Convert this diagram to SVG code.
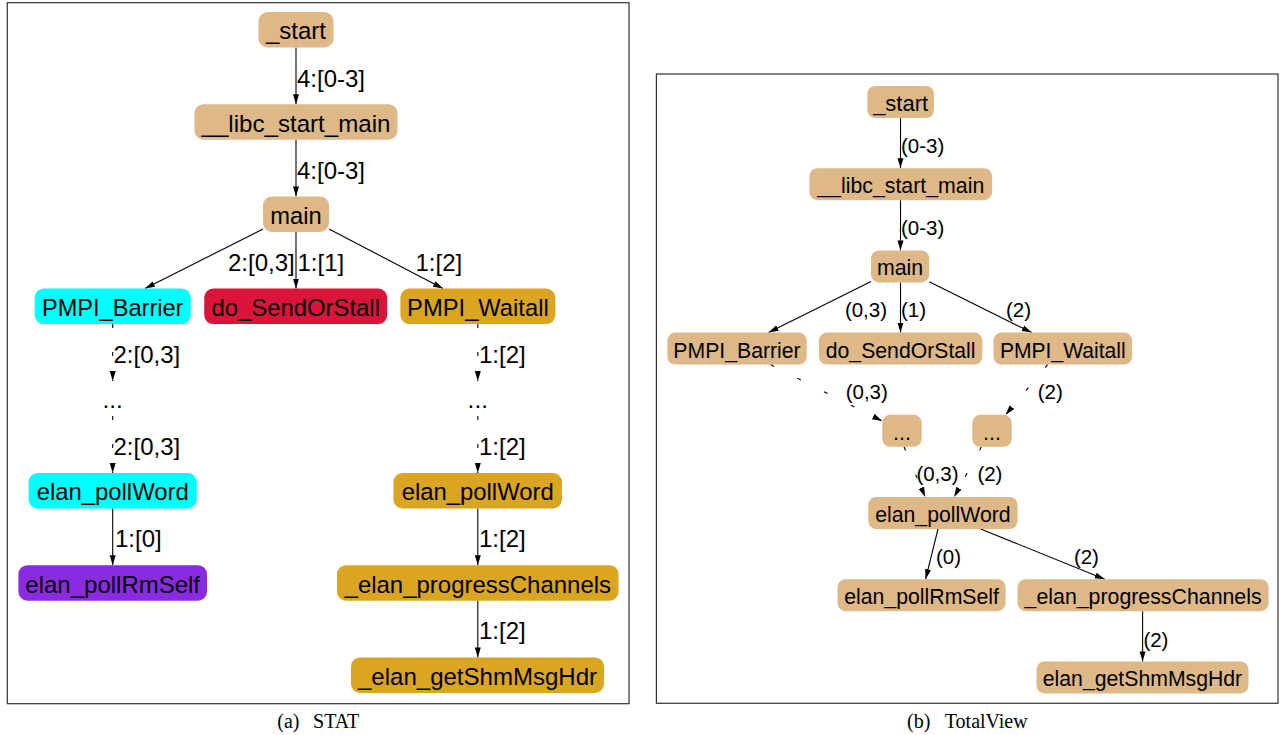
<svg xmlns="http://www.w3.org/2000/svg" width="1280" height="735" viewBox="0 0 1280 735">
<style>
.bg{fill:#fff}
.frame{fill:none;stroke:#333;stroke-width:1.2}
.tan{fill:#deb887}
.cy{fill:#00ffff}
.cr{fill:#dc143c}
.gd{fill:#daa520}
.pu{fill:#8a2be2}
.nl{font-family:"Liberation Sans",Arial,sans-serif;font-size:24.5px;text-anchor:middle;fill:#000}
.nr{font-family:"Liberation Sans",Arial,sans-serif;font-size:21.5px;text-anchor:middle;fill:#000}
.ll{font-family:"Liberation Sans",Arial,sans-serif;font-size:24px;fill:#000}
.lr{font-family:"Liberation Sans",Arial,sans-serif;font-size:20.5px;fill:#000}
.e{stroke:#000;stroke-width:1.1;fill:none;marker-end:url(#ah)}
.dl{stroke-dasharray:4 24}
.dr{stroke-dasharray:4 26}
.cap{font-family:"Liberation Serif","Times New Roman",serif;font-size:20px;fill:#000}
</style>
<defs>
<marker id="ah" viewBox="0 0 10 7" refX="10" refY="3.5" markerWidth="10" markerHeight="7" markerUnits="userSpaceOnUse" orient="auto">
<path d="M0,0.5 L10,3.5 L0,6.5 Z" fill="#000" stroke="none"/>
</marker>
</defs>
<rect class="bg" x="0" y="0" width="1280" height="735"/>

<!-- Panel (a) STAT -->
<rect class="frame" x="7.3" y="2.7" width="621.7" height="701"/>
<g id="a_edges">
<path class="e" d="M296,47.5 L296,104.2"/>
<path class="e" d="M296,139.7 L296,196.4"/>
<path class="e" d="M263,229 L145,288.6"/>
<path class="e" d="M296,231.9 L296,288.6"/>
<path class="e" d="M329,229 L443,288.6"/>
<path class="e dl" d="M112.7,324.1 L112.7,381"/>
<path class="e dl" d="M112.7,416 L112.7,473"/>
<path class="e" d="M112.7,508.5 L112.7,565.2"/>
<path class="e dl" d="M477.8,324.1 L477.8,381"/>
<path class="e dl" d="M477.8,416 L477.8,473"/>
<path class="e" d="M477.8,508.5 L477.8,565.2"/>
<path class="e" d="M477.8,600.7 L477.8,657.4"/>
<text class="ll" x="297" y="86.5">4:[0-3]</text>
<text class="ll" x="297" y="178.5">4:[0-3]</text>
<text class="ll" x="294.7" y="270.5" text-anchor="end">2:[0,3]</text>
<text class="ll" x="297.5" y="270.5">1:[1]</text>
<text class="ll" x="415.5" y="270.5">1:[2]</text>
<text class="ll" x="113.5" y="363">2:[0,3]</text>
<text class="ll" x="113.5" y="455">2:[0,3]</text>
<text class="ll" x="115" y="547.3">1:[0]</text>
<text class="ll" x="479" y="363">1:[2]</text>
<text class="ll" x="479" y="455">1:[2]</text>
<text class="ll" x="479" y="547.3">1:[2]</text>
<text class="ll" x="479" y="639.3">1:[2]</text>
</g>
<g id="a_start"><rect class="tan" x="258.5" y="12" width="75" height="35.5" rx="9"/><text class="nl" x="296" y="39.3" textLength="60" lengthAdjust="spacingAndGlyphs">_start</text></g>
<g id="a_libc"><rect class="tan" x="194.5" y="104.2" width="203" height="35.5" rx="9"/><text class="nl" x="296" y="131.5" textLength="189" lengthAdjust="spacingAndGlyphs">__libc_start_main</text></g>
<g id="a_main"><rect class="tan" x="263" y="196.4" width="66" height="35.5" rx="9"/><text class="nl" x="296" y="223.7" textLength="51.4" lengthAdjust="spacingAndGlyphs">main</text></g>
<g id="a_barrier"><rect class="cy" x="34.7" y="288.6" width="156" height="35.5" rx="9"/><text class="nl" x="112.7" y="315.9" textLength="141.6" lengthAdjust="spacingAndGlyphs">PMPI_Barrier</text></g>
<g id="a_send"><rect class="cr" x="204.2" y="288.6" width="183" height="35.5" rx="9"/><text class="nl" x="295.7" y="315.9" textLength="168.6" lengthAdjust="spacingAndGlyphs">do_SendOrStall</text></g>
<g id="a_waitall"><rect class="gd" x="400.4" y="288.6" width="155" height="35.5" rx="9"/><text class="nl" x="477.9" y="315.9" textLength="141.6" lengthAdjust="spacingAndGlyphs">PMPI_Waitall</text></g>
<g id="a_dots1"><text class="nl" x="112.7" y="408">...</text></g>
<g id="a_dots2"><text class="nl" x="477.8" y="408">...</text></g>
<g id="a_pollword1"><rect class="cy" x="28.6" y="473" width="168.2" height="35.5" rx="9"/><text class="nl" x="112.7" y="500.3" textLength="152" lengthAdjust="spacingAndGlyphs">elan_pollWord</text></g>
<g id="a_rmself"><rect class="pu" x="18.4" y="565.2" width="188.6" height="35.5" rx="9"/><text class="nl" x="112.7" y="592.5" textLength="174.7" lengthAdjust="spacingAndGlyphs">elan_pollRmSelf</text></g>
<g id="a_pollword2"><rect class="gd" x="393.4" y="473" width="168.6" height="35.5" rx="9"/><text class="nl" x="477.7" y="500.3" textLength="152" lengthAdjust="spacingAndGlyphs">elan_pollWord</text></g>
<g id="a_progress"><rect class="gd" x="337" y="565.2" width="281.6" height="35.5" rx="9"/><text class="nl" x="477.8" y="592.5" textLength="266.5" lengthAdjust="spacingAndGlyphs">_elan_progressChannels</text></g>
<g id="a_getshm"><rect class="gd" x="351" y="657.4" width="253" height="35.5" rx="9"/><text class="nl" x="477.5" y="684.7" textLength="239" lengthAdjust="spacingAndGlyphs">_elan_getShmMsgHdr</text></g>
<text class="cap" x="277.3" y="728.3">(a)</text>
<text class="cap" x="359.3" y="728.3" text-anchor="end">STAT</text>

<!-- Panel (b) TotalView -->
<rect class="frame" x="656.4" y="74" width="621.6" height="629.3"/>
<g id="b_edges">
<path class="e" d="M900.5,118 L900.5,168.2"/>
<path class="e" d="M900.5,200.2 L900.5,250.4"/>
<path class="e" d="M871,281.5 L768.5,332.6"/>
<path class="e" d="M900.5,282.4 L900.5,332.6"/>
<path class="e" d="M929.2,281.7 L1031.7,332.6"/>
<path class="e dr" d="M770.5,364.6 L882.2,421"/>
<path class="e dr" d="M1047.7,364.6 L1005.6,414.8"/>
<path class="e dr" d="M904,446.8 L925.2,497"/>
<path class="e dr" d="M981.5,446.8 L954.1,497"/>
<path class="e" d="M938,529 L925.6,579.2"/>
<path class="e" d="M980.7,529 L1104.8,579.2"/>
<path class="e" d="M1142.6,611.2 L1142.6,661.4"/>
<text class="lr" x="901" y="152.8">(0-3)</text>
<text class="lr" x="901" y="234.6">(0-3)</text>
<text class="lr" x="844.9" y="317.3">(0,3)</text>
<text class="lr" x="901" y="317.3">(1)</text>
<text class="lr" x="1006" y="317.3">(2)</text>
<text class="lr" x="845.7" y="399">(0,3)</text>
<text class="lr" x="1037.7" y="399">(2)</text>
<text class="lr" x="916.4" y="480.6">(0,3)</text>
<text class="lr" x="977.4" y="480.6">(2)</text>
<text class="lr" x="936" y="564">(0)</text>
<text class="lr" x="1073.9" y="564">(2)</text>
<text class="lr" x="1143.4" y="646.6">(2)</text>
</g>
<g id="b_start"><rect class="tan" x="867.3" y="86" width="66.7" height="32" rx="8"/><text class="nr" x="900.65" y="111" textLength="55" lengthAdjust="spacingAndGlyphs">_start</text></g>
<g id="b_libc"><rect class="tan" x="809.4" y="168.2" width="182.7" height="32" rx="8"/><text class="nr" x="900.75" y="193.2" textLength="167" lengthAdjust="spacingAndGlyphs">__libc_start_main</text></g>
<g id="b_main"><rect class="tan" x="871" y="250.4" width="58.2" height="32" rx="8"/><text class="nr" x="900.1" y="275.4" textLength="46.2" lengthAdjust="spacingAndGlyphs">main</text></g>
<g id="b_barrier"><rect class="tan" x="667.3" y="332.6" width="139.4" height="32" rx="8"/><text class="nr" x="737" y="357.6" textLength="127.4" lengthAdjust="spacingAndGlyphs">PMPI_Barrier</text></g>
<g id="b_send"><rect class="tan" x="819" y="332.6" width="163.3" height="32" rx="8"/><text class="nr" x="900.65" y="357.6" textLength="149.8" lengthAdjust="spacingAndGlyphs">do_SendOrStall</text></g>
<g id="b_waitall"><rect class="tan" x="993.5" y="332.6" width="138.6" height="32" rx="8"/><text class="nr" x="1062.8" y="357.6" textLength="125.8" lengthAdjust="spacingAndGlyphs">PMPI_Waitall</text></g>
<g id="b_dots1"><rect class="tan" x="882.3" y="414.8" width="39.4" height="32" rx="8"/><text class="nr" x="902" y="439.5">...</text></g>
<g id="b_dots2"><rect class="tan" x="972.3" y="414.8" width="39.4" height="32" rx="8"/><text class="nr" x="992" y="439.5">...</text></g>
<g id="b_pollword"><rect class="tan" x="868.2" y="497" width="149.4" height="32" rx="8"/><text class="nr" x="942.9" y="522" textLength="135.5" lengthAdjust="spacingAndGlyphs">elan_pollWord</text></g>
<g id="b_rmself"><rect class="tan" x="837.6" y="579.2" width="168" height="32" rx="8"/><text class="nr" x="921.6" y="604.2" textLength="154.7" lengthAdjust="spacingAndGlyphs">elan_pollRmSelf</text></g>
<g id="b_progress"><rect class="tan" x="1017.6" y="579.2" width="251" height="32" rx="8"/><text class="nr" x="1143.1" y="604.2" textLength="237" lengthAdjust="spacingAndGlyphs">_elan_progressChannels</text></g>
<g id="b_getshm"><rect class="tan" x="1036.5" y="661.4" width="212" height="32" rx="8"/><text class="nr" x="1142.5" y="686.4" textLength="199.4" lengthAdjust="spacingAndGlyphs">elan_getShmMsgHdr</text></g>
<text class="cap" x="907" y="728.3">(b)</text>
<text class="cap" x="1027.7" y="728.3" text-anchor="end">TotalView</text>
</svg>
